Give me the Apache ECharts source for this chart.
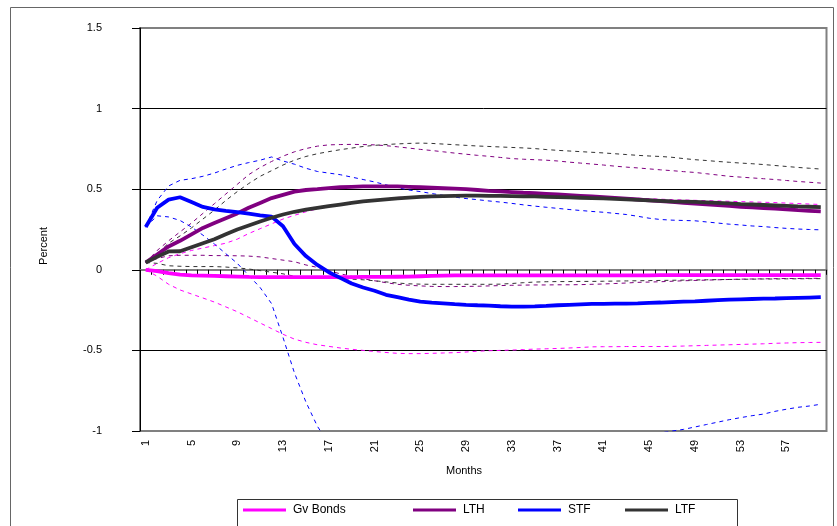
<!DOCTYPE html>
<html>
<head>
<meta charset="utf-8">
<script src="https://cdn.jsdelivr.net/npm/echarts@6/dist/echarts.min.js"></script>
<style>
  html, body { margin: 0; padding: 0; background: #fff; }
  #chart { width: 837px; height: 526px; }
</style>
</head>
<body>
<div id="chart"></div>
<script>
// Impulse responses (percent) over 60 months, with dashed confidence bands
const months = [
  '1','2','3','4','5','6','7','8','9','10','11','12','13','14','15','16','17','18','19','20',
  '21','22','23','24','25','26','27','28','29','30','31','32','33','34','35','36','37','38','39','40',
  '41','42','43','44','45','46','47','48','49','50','51','52','53','54','55','56','57','58','59','60'
];

const gvBonds = [
  0, -0.008, -0.02, -0.03, -0.034, -0.036, -0.038, -0.04, -0.042, -0.044,
  -0.045, -0.046, -0.046, -0.046, -0.046, -0.046, -0.045, -0.045, -0.045, -0.044,
  -0.044, -0.044, -0.043, -0.042, -0.04, -0.038, -0.036, -0.035, -0.034, -0.034,
  -0.034, -0.034, -0.034, -0.034, -0.034, -0.034, -0.034, -0.034, -0.034, -0.034,
  -0.034, -0.034, -0.034, -0.034, -0.034, -0.033, -0.033, -0.033, -0.033, -0.033,
  -0.033, -0.033, -0.033, -0.033, -0.033, -0.033, -0.033, -0.033, -0.033, -0.033
];
const gvBondsUpper = [
  0, 0.04, 0.075, 0.1, 0.12, 0.135, 0.15, 0.165, 0.19, 0.225,
  0.255, 0.285, 0.315, 0.338, 0.36, 0.378, 0.393, 0.405, 0.416, 0.426,
  0.435, 0.443, 0.449, 0.452, 0.455, 0.456, 0.457, 0.457, 0.457, 0.456,
  0.456, 0.456, 0.455, 0.455, 0.455, 0.454, 0.454, 0.453, 0.452, 0.452,
  0.45, 0.448, 0.446, 0.444, 0.441, 0.438, 0.435, 0.433, 0.431, 0.429,
  0.427, 0.425, 0.423, 0.421, 0.419, 0.417, 0.414, 0.411, 0.408, 0.405
];
const gvBondsLower = [
  0, -0.04, -0.09, -0.125, -0.15, -0.175, -0.2, -0.23, -0.26, -0.295,
  -0.33, -0.365, -0.4, -0.43, -0.45, -0.465, -0.475, -0.485, -0.493, -0.5,
  -0.507, -0.513, -0.518, -0.52, -0.52, -0.518, -0.516, -0.514, -0.51, -0.505,
  -0.502, -0.5, -0.498, -0.495, -0.492, -0.49, -0.488, -0.485, -0.482, -0.478,
  -0.477, -0.477, -0.476, -0.476, -0.476, -0.476, -0.475, -0.473, -0.471, -0.469,
  -0.467, -0.465, -0.463, -0.461, -0.459, -0.456, -0.454, -0.452, -0.451, -0.45
];

const lth = [
  0.045, 0.095, 0.145, 0.18, 0.22, 0.26, 0.29, 0.32, 0.35, 0.385,
  0.415, 0.445, 0.465, 0.485, 0.495, 0.5, 0.507, 0.512, 0.515, 0.517,
  0.518, 0.518, 0.517, 0.515, 0.512, 0.509, 0.506, 0.503, 0.5, 0.495,
  0.49, 0.486, 0.482, 0.478, 0.475, 0.471, 0.467, 0.463, 0.459, 0.455,
  0.451, 0.446, 0.441, 0.436, 0.431, 0.426, 0.421, 0.416, 0.411, 0.406,
  0.401, 0.396, 0.391, 0.387, 0.383, 0.379, 0.375, 0.37, 0.366, 0.362
];
const lthUpper = [
  0.045, 0.12, 0.18, 0.235, 0.29, 0.35, 0.41, 0.47, 0.53, 0.59,
  0.635, 0.672, 0.705, 0.732, 0.752, 0.767, 0.775, 0.777, 0.778, 0.777,
  0.775, 0.77, 0.763, 0.755, 0.747, 0.74, 0.732, 0.724, 0.717, 0.71,
  0.704, 0.697, 0.69, 0.686, 0.683, 0.68, 0.675, 0.668, 0.662, 0.656,
  0.65, 0.643, 0.637, 0.632, 0.626, 0.62, 0.615, 0.609, 0.604, 0.596,
  0.588, 0.58, 0.575, 0.57, 0.565, 0.56, 0.554, 0.548, 0.543, 0.538
];
const lthLower = [
  0.045, 0.07, 0.087, 0.09, 0.09, 0.09, 0.088, 0.088, 0.087, 0.085,
  0.08, 0.07, 0.06, 0.05, 0.03, 0.015, -0.005, -0.025, -0.04, -0.055,
  -0.068, -0.08, -0.09, -0.096, -0.1, -0.103, -0.104, -0.104, -0.103, -0.102,
  -0.1, -0.098, -0.096, -0.095, -0.094, -0.094, -0.093, -0.093, -0.092, -0.09,
  -0.088, -0.085, -0.082, -0.078, -0.076, -0.074, -0.071, -0.068, -0.066, -0.064,
  -0.062, -0.06, -0.058, -0.057, -0.056, -0.055, -0.054, -0.054, -0.053, -0.053
];

const stf = [
  0.265, 0.385, 0.435, 0.45, 0.42, 0.39, 0.375, 0.365, 0.358, 0.348,
  0.338, 0.33, 0.27, 0.16, 0.085, 0.03, -0.015, -0.05, -0.085, -0.11,
  -0.13, -0.155, -0.17, -0.185, -0.197, -0.203, -0.208, -0.213, -0.217, -0.22,
  -0.222, -0.226, -0.228, -0.228, -0.227, -0.224, -0.22, -0.217, -0.214, -0.212,
  -0.211, -0.21, -0.21, -0.208, -0.205, -0.203, -0.2, -0.198, -0.196, -0.192,
  -0.188, -0.185, -0.183, -0.181, -0.179, -0.178, -0.176, -0.174, -0.172, -0.17
];
const stfUpper = [
  0.265, 0.43, 0.52, 0.555, 0.565, 0.58, 0.6, 0.625, 0.648, 0.665,
  0.68, 0.7, 0.675, 0.655, 0.63, 0.61, 0.6, 0.59, 0.575, 0.56,
  0.545, 0.527, 0.51, 0.495, 0.485, 0.473, 0.462, 0.451, 0.442, 0.435,
  0.427, 0.42, 0.412, 0.403, 0.395, 0.388, 0.381, 0.374, 0.368, 0.362,
  0.357, 0.35, 0.343, 0.332, 0.32, 0.312, 0.308, 0.306, 0.304, 0.297,
  0.29, 0.283, 0.278, 0.272, 0.268, 0.262, 0.257, 0.253, 0.25, 0.248
];
const stfLower = [
  0.265, 0.335, 0.328, 0.306, 0.265, 0.215, 0.16, 0.1, 0.04, -0.035,
  -0.11, -0.21, -0.42, -0.64, -0.82, -0.97, -1.08, -1.16, -1.22, -1.27,
  -1.3, -1.32, -1.33, -1.34, -1.34, -1.34, -1.33, -1.32, -1.31, -1.29,
  -1.27, -1.25, -1.23, -1.21, -1.19, -1.17, -1.15, -1.13, -1.11, -1.09,
  -1.07, -1.06, -1.04, -1.03, -1.02, -1.01, -1.0, -0.99, -0.975, -0.96,
  -0.945, -0.93, -0.917, -0.905, -0.895, -0.878, -0.865, -0.853, -0.845, -0.834
];

const ltf = [
  0.045, 0.08, 0.114, 0.115, 0.14, 0.165, 0.19, 0.22, 0.25, 0.275,
  0.3, 0.323, 0.343, 0.36, 0.373, 0.384, 0.395, 0.405, 0.415, 0.424,
  0.431, 0.437, 0.443, 0.448, 0.452, 0.455, 0.457, 0.459, 0.46, 0.46,
  0.459, 0.458, 0.457, 0.456, 0.455, 0.453, 0.451, 0.449, 0.447, 0.445,
  0.443, 0.44, 0.437, 0.434, 0.431, 0.428, 0.425, 0.423, 0.421, 0.418,
  0.415, 0.412, 0.408, 0.405, 0.402, 0.399, 0.396, 0.393, 0.391, 0.389
];
const ltfUpper = [
  0.045, 0.1, 0.165, 0.21, 0.26, 0.315, 0.37, 0.43, 0.485, 0.535,
  0.58, 0.615, 0.65, 0.68, 0.703, 0.72, 0.733, 0.745, 0.755, 0.765,
  0.772, 0.777, 0.781, 0.784, 0.786, 0.784, 0.78, 0.776, 0.772, 0.768,
  0.765, 0.762, 0.759, 0.756, 0.752, 0.746, 0.741, 0.737, 0.733, 0.729,
  0.725, 0.72, 0.715, 0.71, 0.706, 0.703, 0.698, 0.69, 0.683, 0.678,
  0.672, 0.667, 0.662, 0.658, 0.653, 0.647, 0.641, 0.635, 0.63, 0.625
];
const ltfLower = [
  0.045, 0.04, 0.025, 0.022, 0.02, 0.02, 0.02, 0.017, 0.012, 0.005,
  -0.005, -0.015, -0.025, -0.04, -0.048, -0.05, -0.052, -0.055, -0.058, -0.062,
  -0.068, -0.075, -0.082, -0.087, -0.089, -0.09, -0.09, -0.09, -0.09, -0.09,
  -0.09, -0.089, -0.085, -0.08, -0.076, -0.074, -0.073, -0.073, -0.072, -0.072,
  -0.071, -0.07, -0.069, -0.068, -0.067, -0.066, -0.065, -0.064, -0.063, -0.062,
  -0.061, -0.06, -0.059, -0.058, -0.057, -0.057, -0.056, -0.056, -0.055, -0.055
];

const yTicks = { min: -1, max: 1.5, step: 0.5 };

const COLORS = {
  'Gv Bonds': '#FF00FF',
  'LTH': '#800080',
  'STF': '#0000FF',
  'LTF': '#333333'
};
const FONT = '"Liberation Sans", Arial, sans-serif';

function band(name, data) {
  return {
    name: name + ' band',
    type: 'line',
    data: data,
    symbol: 'none',
    silent: true,
    lineStyle: { color: COLORS[name], width: 1, type: [4, 4] },
    z: 2
  };
}
function main(name, data) {
  return {
    name: name,
    type: 'line',
    data: data,
    symbol: 'none',
    color: COLORS[name],
    lineStyle: { color: COLORS[name], width: 3.8 },
    z: 3
  };
}

function legendFor(name, left) {
  return {
    data: [name],
    left: left,
    top: 504,
    padding: 0,
    itemGap: 0,
    itemWidth: 43,
    itemHeight: 3,
    icon: 'rect',
    selectedMode: false,
    textStyle: { fontFamily: FONT, fontSize: 12, color: '#000', padding: [0, 0, 0, 2] }
  };
}

const chart = echarts.init(document.getElementById('chart'), null, { renderer: 'canvas' });

chart.setOption({
  animation: false,
  backgroundColor: '#fff',
  grid: {
    left: 140, right: 10.5, top: 28, bottom: 95,
    show: true, borderColor: '#808080', borderWidth: 2
  },
  legend: [
    legendFor('Gv Bonds', 243),
    legendFor('LTH', 413),
    legendFor('STF', 518),
    legendFor('LTF', 625)
  ],
  xAxis: [
    {
      type: 'category',
      data: months,
      boundaryGap: true,
      position: 'bottom',
      axisLine: { show: false, onZero: false },
      axisTick: { show: false },
      axisLabel: {
        interval: 3, rotate: 90, margin: 9,
        fontFamily: FONT, fontSize: 11, color: '#000'
      },
      splitLine: { show: false }
    },
    {
      type: 'category',
      data: months,
      boundaryGap: true,
      position: 'bottom',
      axisLine: { show: true, onZero: true, lineStyle: { color: '#808080', width: 2 } },
      axisTick: { show: true, interval: 0, length: 5, lineStyle: { color: '#000', width: 1 } },
      axisLabel: { show: false },
      splitLine: { show: false }
    }
  ],
  yAxis: {
    type: 'value',
    min: yTicks.min,
    max: yTicks.max,
    interval: yTicks.step,
    axisLine: { show: true, onZero: false, lineStyle: { color: '#000', width: 1 } },
    axisTick: { show: true, length: 8, lineStyle: { color: '#000' } },
    axisLabel: { margin: 38, fontFamily: FONT, fontSize: 11, color: '#000' },
    splitLine: {
      show: true,
      lineStyle: { color: ['#808080', '#000', '#808080', '#000', '#000', '#808080'], width: 1 }
    }
  },
  series: [
    band('Gv Bonds', gvBondsUpper),
    band('Gv Bonds', gvBondsLower),
    band('LTH', lthUpper),
    band('LTH', lthLower),
    band('STF', stfUpper),
    band('STF', stfLower),
    band('LTF', ltfUpper),
    band('LTF', ltfLower),
    main('Gv Bonds', gvBonds),
    main('LTH', lth),
    main('STF', stf),
    main('LTF', ltf)
  ],
  graphic: [
    {
      type: 'rect', silent: true, z: -10,
      shape: { x: 10.5, y: 7.5, width: 823, height: 540 },
      style: { fill: null, stroke: '#666', lineWidth: 1 }
    },
    {
      type: 'rect', silent: true, z: -5,
      shape: { x: 237.5, y: 499.5, width: 500, height: 40 },
      style: { fill: '#fff', stroke: '#333', lineWidth: 1 }
    },
    {
      type: 'text', silent: true,
      x: 44, y: 246, rotation: Math.PI / 2,
      style: { text: 'Percent', font: '11px ' + FONT, fill: '#000', align: 'center', verticalAlign: 'middle' }
    },
    {
      type: 'text', silent: true,
      x: 464, y: 471,
      style: { text: 'Months', font: '11px ' + FONT, fill: '#000', align: 'center', verticalAlign: 'middle' }
    }
  ]
});
</script>
</body>
</html>
